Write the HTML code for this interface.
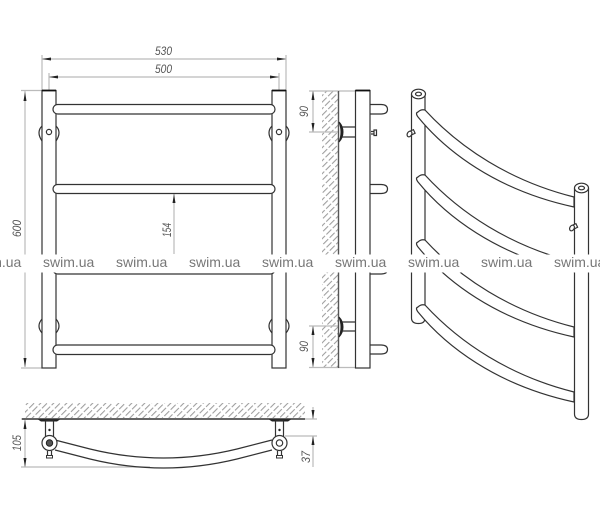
<!DOCTYPE html>
<html>
<head>
<meta charset="utf-8">
<style>
html,body{margin:0;padding:0;background:#fff;width:600px;height:526px;overflow:hidden}
svg{display:block}
text{font-family:"Liberation Sans",sans-serif}
.d{font-style:italic;font-size:12px;fill:#555}
.w{font-size:14px;fill:#777}
.k{fill:none;stroke:#333;stroke-width:1.2}
.r{fill:#fff;stroke:#333;stroke-width:1.2}
.g{fill:none;stroke:#bbb;stroke-width:1.2}
</style>
</head>
<body>
<svg width="600" height="526" viewBox="0 0 600 526" xmlns="http://www.w3.org/2000/svg">
<defs>
<pattern id="h" width="4.600" height="9" patternUnits="userSpaceOnUse" patternTransform="rotate(45)">
<line x1="1" y1="0" x2="1" y2="9" stroke="#999" stroke-width="1" stroke-dasharray="7 2"/>
</pattern>
</defs>

<!-- front view dims -->
<path class="g" d="M42 55V90M286 55V90M49 73V90M279 73V90M21 90.500H42M21 368H42M174 194V254M25 91V367M42 59H286M49 77H279"/>
<path d="M42 59l9-1.500v3zM286 59l-9-1.500v3zM49 77l9-1.500v3zM279 77l-9-1.500v3zM25 92l-1.500 9h3zM25 367l-1.500-9h3zM174 194l-1.500 9h3z" fill="#222"/>
<text class="d" x="155" y="55" textLength="17" lengthAdjust="spacingAndGlyphs">530</text>
<text class="d" x="155" y="73" textLength="17" lengthAdjust="spacingAndGlyphs">500</text>
<text class="d" transform="translate(21,237) rotate(-90)" textLength="17" lengthAdjust="spacingAndGlyphs">600</text>
<text class="d" transform="translate(171,237) rotate(-90)" textLength="14" lengthAdjust="spacingAndGlyphs">154</text>

<!-- front view brackets -->
<path class="k" d="M42 126Q36 132 42 141M56 126Q62 132 56 141M272 126Q266 132 272 141M286 126Q292 132 286 141M42 319Q36 326 42 333M56 319Q62 326 56 333M272 319Q266 326 272 333M286 319Q292 326 286 333"/>
<!-- posts -->
<rect class="r" x="42" y="90.500" width="14" height="277.500"/>
<rect class="r" x="272" y="90.500" width="14" height="277.500"/>
<path d="M42 90.500H56M272 90.500H286" stroke="#111" stroke-width="1.800"/>
<circle class="k" cx="49" cy="132" r="2.600"/>
<circle class="k" cx="279" cy="132" r="2.600"/>
<!-- rails -->
<rect class="r" x="53" y="104.500" width="222" height="9.500" rx="4.700"/>
<rect class="r" x="53" y="184.500" width="222" height="9" rx="4.500"/>
<rect class="r" x="53" y="265" width="222" height="9" rx="4.500"/>
<rect class="r" x="53" y="345" width="222" height="9.500" rx="4.700"/>

<!-- side view -->
<rect x="322" y="91" width="16" height="277" fill="url(#h)"/>
<path class="g" d="M309 91H355M309 132H338M309 326H338M309 367.500H355M313 91V132M313 326V367"/>
<path d="M313 91l-1.500 9h3zM313 132l-1.500-9h3zM313 326l-1.500 9h3zM313 367l-1.500-9h3z" fill="#222"/>
<text class="d" transform="translate(308,117) rotate(-90)" textLength="11" lengthAdjust="spacingAndGlyphs">90</text>
<text class="d" transform="translate(308,352) rotate(-90)" textLength="11" lengthAdjust="spacingAndGlyphs">90</text>
<path d="M338.500 91V368" stroke="#555" stroke-width="1.400"/>
<path d="M339 122Q343 132 339 142Q343 138 343 132Q343 126 339 122ZM339 317Q343 327 339 337Q343 333 343 327Q343 321 339 317Z" fill="#222" stroke="#222"/>
<path class="k" d="M342 127H355M342 137H355M342 322H355M342 331H355"/>
<path class="k" d="M370 104.500H381Q387.500 104.500 387.500 109.500Q387.500 114 381 114H370M370 184.500H381Q387.500 184.500 387.500 189Q387.500 193.500 381 193.500H370M370 265H381Q387.500 265 387.500 269.500Q387.500 274 381 274H370M370 345H381Q387.500 345 387.500 349.500Q387.500 354 381 354H370"/>
<path class="k" d="M371 131.500H374V134H371M374 130H376.500V135.500H374Z"/>
<rect class="r" x="355.500" y="90.500" width="14.500" height="277.500"/>
<path d="M355.500 90.500H370" stroke="#111" stroke-width="1.800"/>

<!-- iso view: left post -->
<path class="r" d="M411.500 94V318Q411.500 323.500 418.500 323.500Q425 323.500 425 318V94"/>
<ellipse class="r" cx="418.500" cy="94" rx="7" ry="4.800"/>
<ellipse class="k" cx="418.500" cy="94" rx="3" ry="1.800"/>
<rect class="r" x="410" y="130.500" width="4.500" height="4" transform="rotate(-25 412 132.500)"/>
<ellipse class="r" cx="409.500" cy="134" rx="2.200" ry="3" transform="rotate(30 409.500 134)"/>
<!-- iso rails -->
<path class="r" d="M425 110C460 148 510 181 574 197V207C495 190 445 150 418 117Q415 113 418 112Q421 109 425 110Z"/>
<path class="r" d="M425 175C460 213 510 246 574 262V272C495 255 445 215 418 182Q415 178 418 177Q421 174 425 175Z"/>
<path class="r" d="M425 240C460 278 510 311 574 327V337C495 320 445 280 418 247Q415 243 418 242Q421 239 425 240Z"/>
<path class="r" d="M425 305C460 343 510 376 574 392V402C495 385 445 345 418 312Q415 308 418 307Q421 304 425 305Z"/>
<!-- iso right post -->
<path class="r" d="M574.500 188V414Q574.500 419.500 581.500 419.500Q588.500 419.500 588.500 414V188"/>
<ellipse class="r" cx="581.500" cy="188" rx="7" ry="4.800"/>
<ellipse class="k" cx="581.500" cy="188" rx="3" ry="1.800"/>
<rect class="r" x="572.500" y="224.500" width="4.500" height="4" transform="rotate(-25 574.500 226.500)"/>
<ellipse class="r" cx="572" cy="228" rx="2.200" ry="3" transform="rotate(30 572 228)"/>

<!-- bottom view -->
<rect x="25" y="403" width="280" height="15" fill="url(#h)"/>
<path class="g" d="M21 467H150M285 436H317M305 419H317M21 419H25M25 420V467M313 407V419M313 436V467"/>
<path d="M25 420l-1.500 9h3zM25 467l-1.500-9h3zM313 419l-1.500-9h3zM313 436l-1.500 9h3z" fill="#222"/>
<text class="d" transform="translate(21,451) rotate(-90)" textLength="16" lengthAdjust="spacingAndGlyphs">105</text>
<text class="d" transform="translate(310,463) rotate(-90)" textLength="12" lengthAdjust="spacingAndGlyphs">37</text>
<path d="M22 419H305" stroke="#333" stroke-width="1.500"/>
<path d="M38 419.500H60L57 421.500H41ZM269 419.500H291L288 421.500H272Z" fill="#222"/>
<path class="k" d="M55 440L90 449Q163.500 467 237 449L272 440"/>
<path class="k" d="M55 450L90 459Q163.500 477 237 459L272 450"/>
<rect class="r" x="45.500" y="421" width="8" height="16"/>
<rect class="r" x="275.500" y="421" width="8" height="16"/>
<circle cx="49.500" cy="430" r="1.200" fill="#222"/>
<circle cx="279.500" cy="430" r="1.200" fill="#222"/>
<path class="k" d="M47.500 451V456M51.500 451V456M277.500 451V456M281.500 451V456"/>
<rect x="46.500" y="455.500" width="6" height="2.500" fill="#fff" stroke="#333"/>
<rect x="276.500" y="455.500" width="6" height="2.500" fill="#fff" stroke="#333"/>
<circle class="r" cx="49.500" cy="443" r="7.500"/>
<circle cx="49.500" cy="443" r="3.200" fill="#555" stroke="#222"/>
<circle class="r" cx="279.500" cy="443" r="7.500"/>
<circle class="k" cx="279.500" cy="443" r="3.200"/>

<!-- watermark band -->
<rect x="0" y="254.500" width="600" height="18" fill="#fff"/>
<text class="w" x="-30" y="267">swim.ua</text>
<text class="w" x="43" y="267">swim.ua</text>
<text class="w" x="116" y="267">swim.ua</text>
<text class="w" x="189" y="267">swim.ua</text>
<text class="w" x="262" y="267">swim.ua</text>
<text class="w" x="335" y="267">swim.ua</text>
<text class="w" x="408" y="267">swim.ua</text>
<text class="w" x="481" y="267">swim.ua</text>
<text class="w" x="554" y="267">swim.ua</text>
</svg>
</body>
</html>
